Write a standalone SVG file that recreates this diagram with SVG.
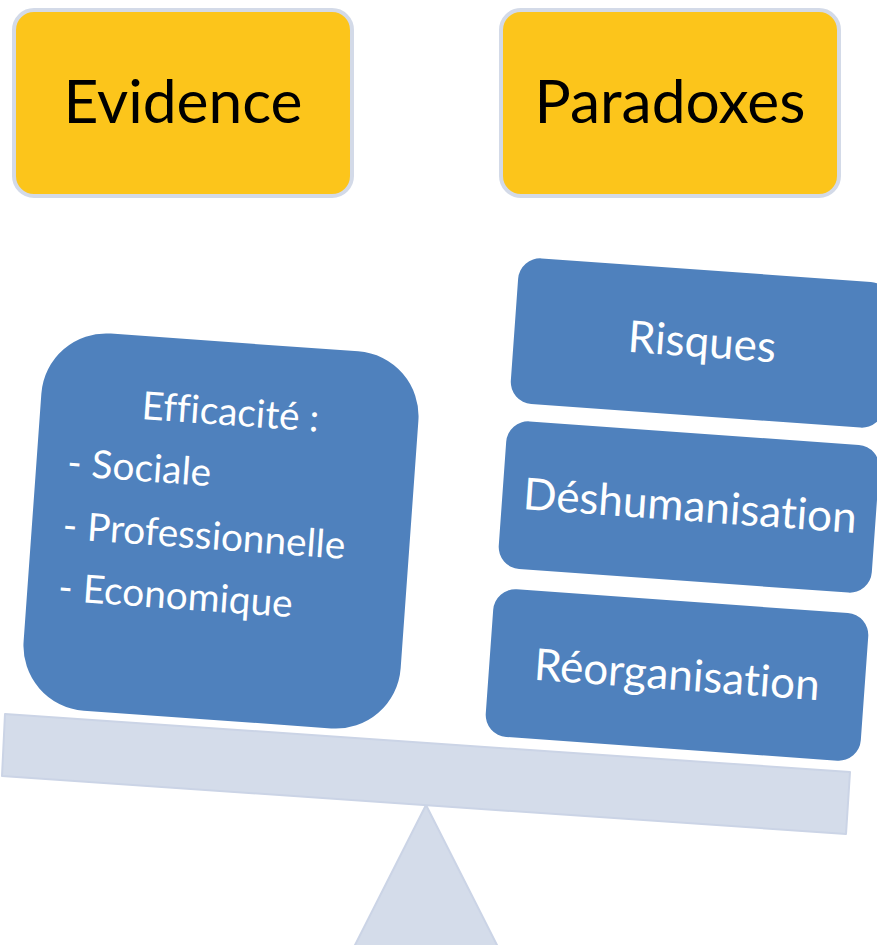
<svg xmlns="http://www.w3.org/2000/svg" width="877" height="945" viewBox="0 0 877 945">
<style>
.yel{fill:#FCC51B;stroke:#D3DAE8;stroke-width:4}
.blue{fill:#4F81BD}
text{font-variant-ligatures:none}
.ytxt{font-family:Lato,"Liberation Sans",sans-serif;font-size:60.5px;fill:#000;text-anchor:middle}
.btxt{font-family:Lato,"Liberation Sans",sans-serif;font-size:44px;fill:#fff;text-anchor:middle}
.ltxt{font-family:Lato,"Liberation Sans",sans-serif;font-size:38.8px;fill:#fff}
.scale{fill:#D4DCEA;stroke:#CBD4E6;stroke-width:2;stroke-linejoin:round}
</style>
<rect width="877" height="945" fill="#fff"/>
<g id="evidence">
<rect class="yel" x="14" y="10" width="338" height="186" rx="20"/>
<text class="ytxt" x="183" y="123">Evidence</text>
</g>
<g id="paradoxes">
<rect class="yel" x="501" y="10" width="338" height="186" rx="20"/>
<text class="ytxt" x="670" y="123">Paradoxes</text>
</g>
<g id="fulcrum">
<polygon class="scale" points="426,805 354,947 498,947"/>
</g>
<g id="beam">
<polygon class="scale" points="5,714 850,772 846,834 2,776"/>
</g>
<g id="efficacite" transform="rotate(4.1 221 531)">
<rect class="blue" x="32" y="342" width="378" height="378" rx="65"/>
<text class="ltxt" x="222" y="425" text-anchor="middle">Efficacité :</text>
<text class="ltxt" x="63" y="487">- Sociale</text>
<text class="ltxt" x="63" y="550">- Professionnelle</text>
<text class="ltxt" x="63" y="612">- Economique</text>
</g>
<g id="risques" transform="rotate(4.1 701 343)">
<rect class="blue" x="514" y="270" width="374" height="146" rx="22"/>
<text class="btxt" x="702" y="357">Risques</text>
</g>
<g id="deshumanisation" transform="rotate(4.1 689 507)">
<rect class="blue" x="502" y="433" width="374" height="148" rx="22"/>
<text class="btxt" x="690" y="521">Déshumanisation</text>
</g>
<g id="reorganisation" transform="rotate(4.1 677 675)">
<rect class="blue" x="489" y="601" width="376" height="148" rx="22"/>
<text class="btxt" x="677" y="690">Réorganisation</text>
</g>
</svg>
